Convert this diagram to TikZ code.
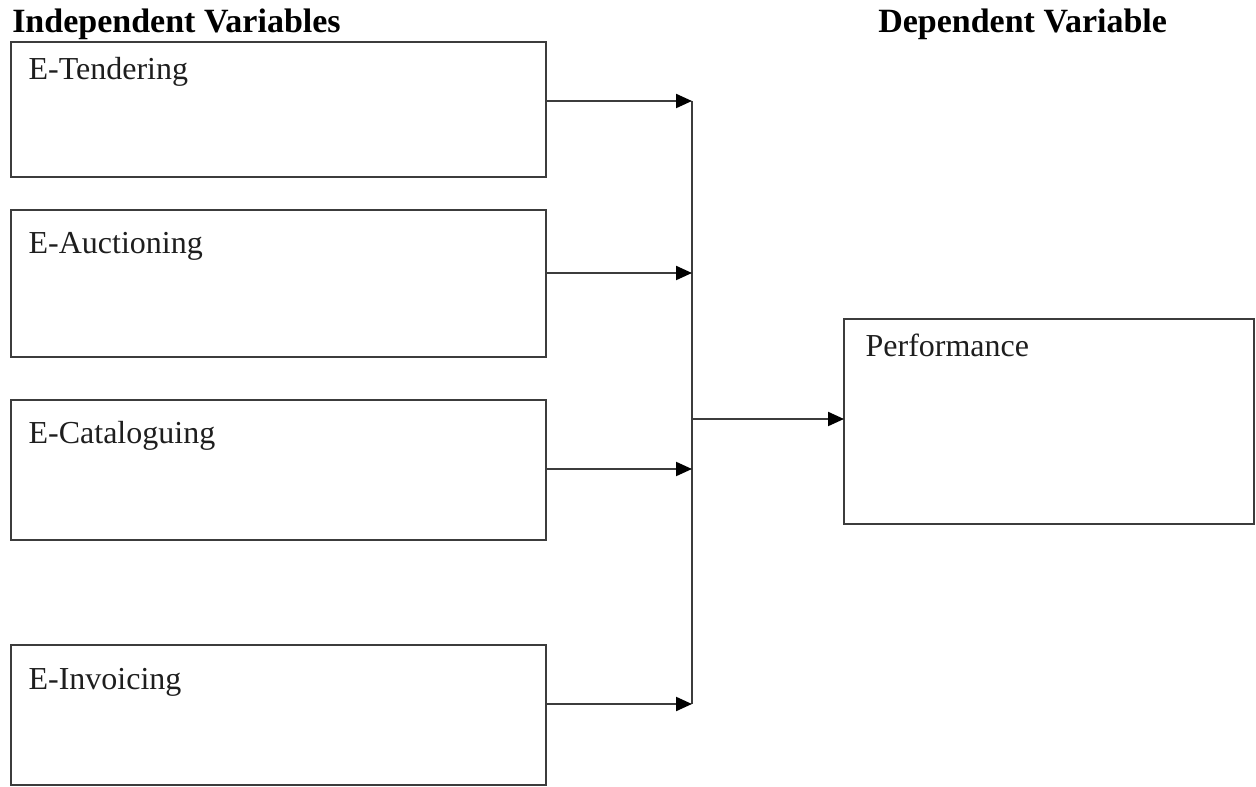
\documentclass[tikz,border=0pt]{standalone}
\usepackage{fontspec}
\setmainfont{Liberation Serif}
\usetikzlibrary{arrows.meta}
\definecolor{linegray}{RGB}{60,60,60}
\definecolor{textgray}{RGB}{30,30,30}
\tikzstyle{head}      = [font=\fontsize{25.5}{30}\selectfont\bfseries, anchor=base west, inner sep=0]
\tikzstyle{var box}   = [draw=linegray, line width=1.5pt, inner sep=0, outer sep=0, minimum width=401.25pt]
\tikzstyle{var text}  = [text=textgray, font=\fontsize{24}{28}\selectfont, anchor=base west, inner sep=0, xshift=13pt]
\tikzstyle{link}      = [draw=linegray, line width=1.6pt]
\tikzstyle{link arrow}= [link, -{Triangle[length=12pt,width=10.5pt,color=black]}]

\begin{document}
\begin{tikzpicture}[x=0.75pt, y=-0.75pt]
    \useasboundingbox (0,0) rectangle (1256,787);

    % Headings
    \node(indep)[head] at (12,33) {Independent Variables};
    \node(dep)[head] at (878,33) {Dependent Variable};

    % Independent variables
    \node(tend)[var box, minimum height=101.25pt,
        label={[var text, yshift=-28.5pt]north west:E-Tendering}] at (278.5,109.5) {};
    \node(auct)[var box, minimum height=110.25pt,
        label={[var text, yshift=-33pt]north west:E-Auctioning}] at (278.5,283.5) {};
    \node(catl)[var box, minimum height=105pt,
        label={[var text, yshift=-33pt]north west:E-Cataloguing}] at (278.5,470) {};
    \node(invc)[var box, minimum height=105pt,
        label={[var text, yshift=-33pt]north west:E-Invoicing}] at (278.5,715) {};

    % Dependent variable
    \node(perf)[var box, minimum width=307.5pt, minimum height=153.75pt,
        label={[var text, xshift=3pt, yshift=-28.5pt]north west:Performance}] at (1049,421.5) {};

    % Collecting line
    \coordinate(b1) at (692,101);
    \coordinate(b2) at (692,273);
    \coordinate(b3) at (692,469);
    \coordinate(b4) at (692,704);
    \coordinate(bm) at (692,419);
    \draw[link] (b1) -- (b4);

    % Arrows into the collecting line
    \draw[link arrow] (b1 -| tend.east) -- (b1);
    \draw[link arrow] (b2 -| auct.east) -- (b2);
    \draw[link arrow] (b3 -| catl.east) -- (b3);
    \draw[link arrow] (b4 -| invc.east) -- (b4);

    % Arrow to performance
    \draw[link arrow] (bm) -- (bm -| perf.west);
\end{tikzpicture}
\end{document}
